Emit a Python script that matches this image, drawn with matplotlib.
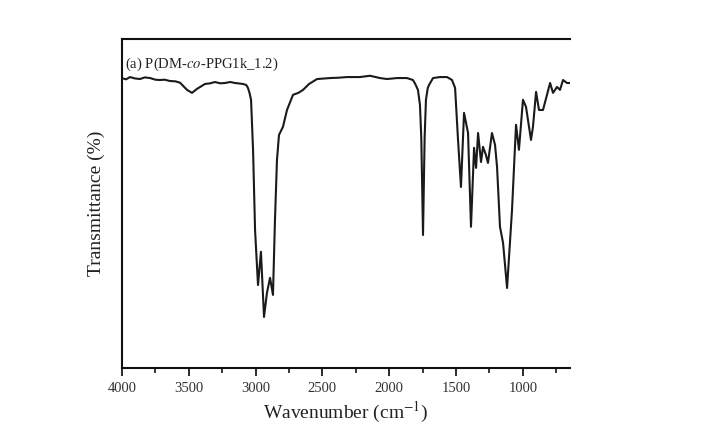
import numpy as np
import matplotlib.pyplot as plt
from matplotlib.ticker import MultipleLocator

# FTIR spectrum (wavenumber in cm^-1, transmittance in arbitrary %)
wavenumber = [4000, 3970, 3940, 3905, 3865, 3830, 3790, 3750, 3716, 3680,
              3641, 3600, 3566, 3513, 3476, 3439, 3379, 3340, 3304, 3265,
              3229, 3190, 3154, 3094, 3070, 3057, 3045, 3034, 3019, 3004,
              2982, 2960, 2937, 2915, 2892, 2870, 2855, 2840, 2825, 2795,
              2765, 2720, 2680, 2645, 2600, 2540, 2443, 2380, 2316, 2219,
              2144, 2069, 2016, 1942, 1867, 1822, 1805, 1785, 1770, 1760,
              1747, 1735, 1725, 1712, 1702, 1672, 1620, 1567, 1530, 1507,
              1485, 1463, 1440, 1410, 1388, 1365, 1350, 1335, 1313, 1298,
              1276, 1261, 1231, 1208, 1193, 1171, 1148, 1118, 1081, 1051,
              1029, 999, 976, 939, 924, 901, 879, 849, 796, 774,
              744, 722, 699, 669, 647]
transmittance = [88.1, 87.7, 88.4, 88.0, 87.8, 88.3, 88.1, 87.6, 87.5, 87.6,
                 87.2, 87.1, 86.7, 84.5, 83.6, 84.8, 86.3, 86.5, 86.9, 86.5,
                 86.6, 86.9, 86.6, 86.3, 86.0, 85.1, 83.5, 81.5, 66.3, 41.9,
                 25.2, 35.3, 15.5, 22.8, 27.4, 22.2, 45.0, 63.2, 70.8, 73.3,
                 78.4, 83.0, 83.6, 84.5, 86.3, 87.8, 88.1, 88.2, 88.4, 88.4,
                 88.8, 88.1, 87.8, 88.1, 88.1, 87.5, 86.3, 84.5, 80.0, 70.0,
                 40.4, 70.0, 81.5, 85.0, 86.0, 88.1, 88.4, 88.4, 87.5, 85.1,
                 69.3, 55.0, 77.5, 71.4, 42.9, 66.9, 60.8, 71.4, 62.6, 67.2,
                 64.7, 62.3, 71.4, 67.8, 61.1, 42.9, 38.0, 24.3, 48.0, 73.9,
                 66.3, 81.5, 79.3, 69.3, 73.3, 83.9, 78.4, 78.4, 86.6, 83.6,
                 85.4, 84.5, 87.5, 86.6, 86.6]

plt.rcParams['font.family'] = ['Liberation Serif', 'DejaVu Serif']
plt.rcParams['mathtext.fontset'] = 'stix'

fig = plt.figure(figsize=(7.15, 4.37), dpi=100)
ax = fig.add_axes([0.1706, 0.158, 0.6266, 0.753])

ax.plot(wavenumber, transmittance, color='#1a1a1a', lw=1.5, solid_joinstyle='round')

ax.set_xlim(4000, 647)
ax.set_ylim(0, 100)
ax.xaxis.set_major_locator(MultipleLocator(500))
ax.xaxis.set_minor_locator(MultipleLocator(250))
ax.set_yticks([])
ax.tick_params(axis='x', which='major', direction='out', length=6, width=1.3,
               labelsize=10.5, colors='#1a1a1a', labelcolor='#333333', pad=4)
ax.tick_params(axis='x', which='minor', direction='out', length=3.5, width=1.1)

ax.spines['right'].set_visible(False)
for s in ['left', 'bottom', 'top']:
    ax.spines[s].set_linewidth(1.5)
    ax.spines[s].set_color('#111111')

ax.set_xlabel(r'Wavenumber (cm$^{-1}$)', fontsize=14, color='#222222', labelpad=4)
ax.set_ylabel('Transmittance (%)', fontsize=14, color='#222222', labelpad=12)

ax.text(3975, 92.4, r'(a) P(DM-$\it{co}$-PPG1k_1.2)', fontsize=10.5,
        va='center', ha='left', color='#222222')

fig.savefig('out.png', dpi=100)
